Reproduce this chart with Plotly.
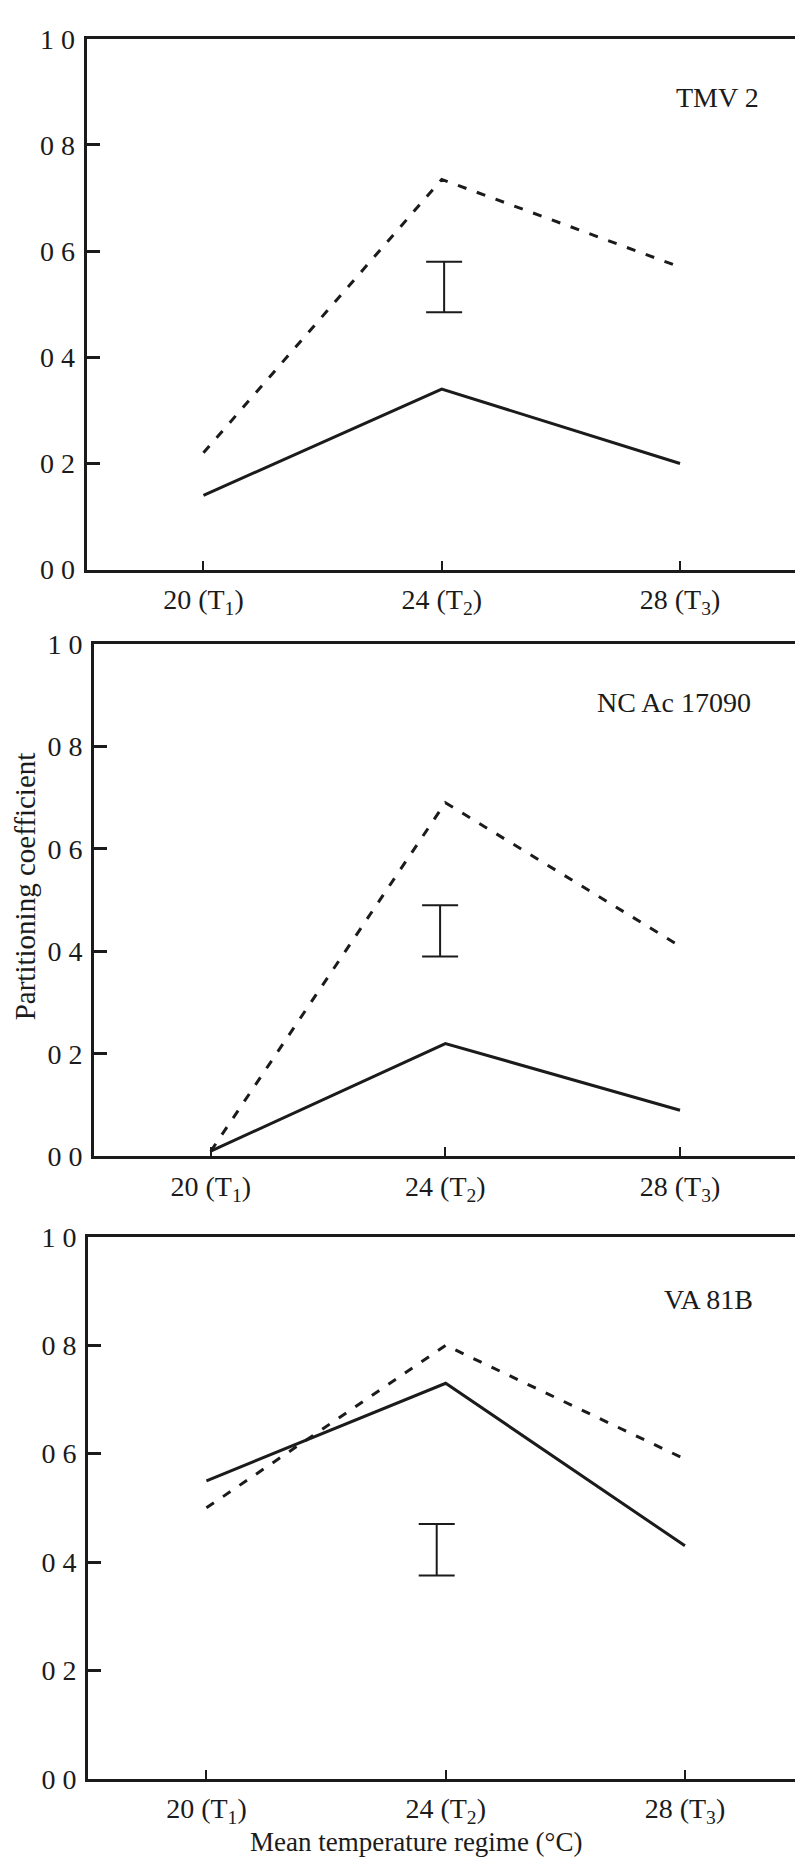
import plotly.graph_objects as go

# ---------------- data ----------------
temps = [20, 24, 28]
x_tick_text = ["20 (T<sub>1</sub>)", "24 (T<sub>2</sub>)", "28 (T<sub>3</sub>)"]
y_tick_vals = [0, 0.2, 0.4, 0.6, 0.8, 1.0]
y_tick_text = ["0 0", "0 2", "0 4", "0 6", "0 8", "1 0"]

cultivars = ["TMV 2", "NC Ac 17090", "VA 81B"]

tmv2_dashed = [0.22, 0.735, 0.57]
tmv2_solid = [0.14, 0.34, 0.20]
tmv2_err = [0.485, 0.58]
tmv2_err_x = 24.04

ncac_dashed = [0.01, 0.69, 0.41]
ncac_solid = [0.01, 0.22, 0.09]
ncac_err = [0.39, 0.49]
ncac_err_x = 23.91

va81b_dashed = [0.50, 0.80, 0.59]
va81b_solid = [0.55, 0.73, 0.43]
va81b_err = [0.375, 0.47]
va81b_err_x = 23.85

y_title = "Partitioning coefficient"
x_title = "Mean temperature regime (°C)"

# ---------------- layout helpers ----------------
W, H = 795, 1868
INK = "#1b1b1b"
FONT = "Liberation Serif, Times New Roman, serif"


def py(px):
    return (H - px) / H


def pxx(px):
    return px / W


panels = [
    dict(dashed=tmv2_dashed, solid=tmv2_solid, err=tmv2_err, errx=tmv2_err_x,
         left=86.7, top=24.1, bottom=564.0, xr=[18.04, 29.93], label=(717, 84), stand=3),
    dict(dashed=ncac_dashed, solid=ncac_solid, err=ncac_err, errx=ncac_err_x,
         left=94.0, top=639.4, bottom=1160.6, xr=[18.01, 29.96], label=(674, 699), stand=3),
    dict(dashed=va81b_dashed, solid=va81b_solid, err=va81b_err, errx=va81b_err_x,
         left=88.0, top=1242.6, bottom=1793.5, xr=[18.02, 29.84], label=(708, 1306), stand=3),
]

fig = go.Figure()
layout = dict(
    width=W, height=H,
    margin=dict(l=0, r=0, t=0, b=0),
    paper_bgcolor="white", plot_bgcolor="white",
    showlegend=False,
    font=dict(family=FONT, color=INK),
    annotations=[],
)

for i, p in enumerate(panels):
    n = "" if i == 0 else str(i + 1)
    xa, ya = "x" + n, "y" + n
    fig.add_trace(go.Scatter(x=temps, y=p["dashed"], mode="lines", xaxis=xa, yaxis=ya,
                             line=dict(color=INK, width=3, dash="9px,11px"), hoverinfo="skip"))
    fig.add_trace(go.Scatter(x=temps, y=p["solid"], mode="lines", xaxis=xa, yaxis=ya,
                             line=dict(color=INK, width=3), hoverinfo="skip"))
    lo, hi = p["err"]
    fig.add_trace(go.Scatter(x=[p["errx"]], y=[(lo + hi) / 2], mode="markers", xaxis=xa, yaxis=ya,
                             marker=dict(size=1, color="rgba(0,0,0,0)"),
                             error_y=dict(type="data", array=[(hi - lo) / 2], symmetric=True,
                                          color=INK, thickness=2, width=18),
                             hoverinfo="skip"))
    layout["xaxis" + n] = dict(
        domain=[pxx(p["left"]), 1.0], range=p["xr"], anchor=ya,
        showline=True, linewidth=3, linecolor=INK, mirror=True,
        ticks="inside", ticklen=9, tickwidth=2, tickcolor=INK,
        tickvals=temps, ticktext=x_tick_text, ticklabelstandoff=p["stand"],
        tickfont=dict(size=28, family=FONT, color=INK),
        showgrid=False, zeroline=False, fixedrange=True,
    )
    layout["yaxis" + n] = dict(
        domain=[py(p["bottom"]), py(p["top"])], range=[0, 1], anchor=xa,
        showline=True, linewidth=3, linecolor=INK, mirror=False,
        ticks="inside", ticklen=13, tickwidth=2.5, tickcolor=INK,
        tickvals=y_tick_vals, ticktext=y_tick_text, ticklabelstandoff=3,
        tickfont=dict(size=28, family=FONT, color=INK),
        showgrid=False, zeroline=False, fixedrange=True,
    )
    lx, ly = p["label"]
    layout["annotations"].append(dict(
        text=cultivars[i], x=pxx(lx), y=py(ly), xref="paper", yref="paper",
        xanchor="center", yanchor="middle", showarrow=False,
        font=dict(size=28, family=FONT, color=INK)))

layout["annotations"].append(dict(
    text=y_title, x=pxx(25), y=py(886), xref="paper", yref="paper", textangle=-90,
    xanchor="center", yanchor="middle", showarrow=False,
    font=dict(size=29, family=FONT, color=INK)))
layout["annotations"].append(dict(
    text=x_title, x=pxx(416), y=py(1858), xref="paper", yref="paper",
    xanchor="center", yanchor="middle", showarrow=False,
    font=dict(size=27, family=FONT, color=INK)))

fig.update_layout(**layout)
fig.write_html(
    "out.html",
    config={"displayModeBar": False},
    post_script="document.body.style.margin='0';document.body.style.overflow='hidden';",
)
